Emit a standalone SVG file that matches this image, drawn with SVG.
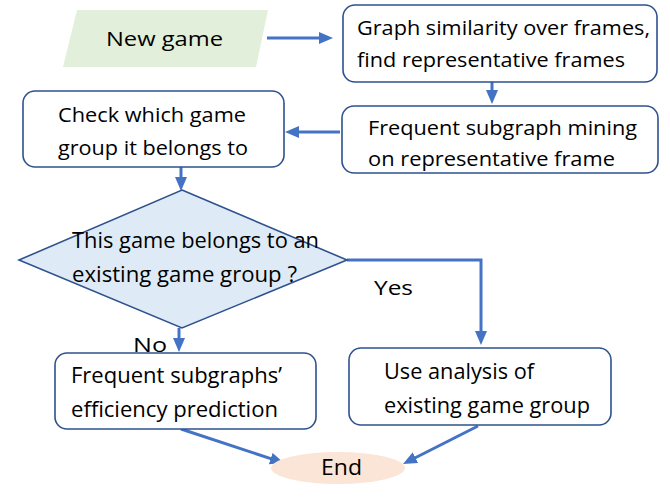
<svg xmlns="http://www.w3.org/2000/svg" width="670" height="498" viewBox="0 0 670 498">
<style>
.box{fill:#ffffff;stroke:#2f528f;stroke-width:1.6}
.t{font-family:"Open Sans","Noto Sans",sans-serif;font-size:20px;fill:#000}
.c{font-family:"Open Sans","Noto Sans",sans-serif;font-size:21px;fill:#000}
.con{fill:none;stroke:#4472c4;stroke-width:3}
</style>
<defs>
<marker id="ah" markerUnits="userSpaceOnUse" markerWidth="14" markerHeight="12" viewBox="0 0 14 12" refX="4" refY="6" orient="auto">
<path d="M0,0 L14,6 L0,12 z" fill="#4472c4"/>
</marker>
</defs>
<g id="connectors">
<line class="con" x1="267" y1="38" x2="323" y2="38" marker-end="url(#ah)"/>
<line class="con" x1="492" y1="82" x2="492" y2="94" marker-end="url(#ah)"/>
<line class="con" x1="340" y1="132" x2="295" y2="132" marker-end="url(#ah)"/>
<line class="con" x1="181" y1="167" x2="181" y2="181" marker-end="url(#ah)"/>
<path class="con" d="M347,260 H481 V335" marker-end="url(#ah)"/>
<line class="con" x1="179" y1="328" x2="179" y2="342" marker-end="url(#ah)"/>
<line class="con" x1="181" y1="429" x2="274.5" y2="459.9" marker-end="url(#ah)"/>
<line class="con" x1="478" y1="426" x2="411.9" y2="459.5" marker-end="url(#ah)"/>
<text class="t" x="374" y="295" font-size="25" textLength="39" lengthAdjust="spacingAndGlyphs">Yes</text>
<text class="t" x="133" y="352" font-size="26" textLength="34" lengthAdjust="spacingAndGlyphs">No</text>
</g>
<g id="new-game">
<polygon points="77,10 268,10 256,67 63,67" fill="#e2efda"/>
<text class="t" x="106" y="46" font-size="25" textLength="117" lengthAdjust="spacingAndGlyphs">New game</text>
</g>
<g id="graph-similarity">
<rect class="box" x="343" y="5" width="314" height="77" rx="12"/>
<text class="t" x="357" y="35" textLength="293" lengthAdjust="spacingAndGlyphs">Graph similarity over frames,</text>
<text class="t" x="357" y="67" textLength="268" lengthAdjust="spacingAndGlyphs">find representative frames</text>
</g>
<g id="subgraph-mining">
<rect class="box" x="342" y="106" width="316" height="67" rx="12"/>
<text class="t" x="368" y="135" font-size="21" textLength="269" lengthAdjust="spacingAndGlyphs">Frequent subgraph mining</text>
<text class="t" x="368" y="166" font-size="21" textLength="247" lengthAdjust="spacingAndGlyphs">on representative frame</text>
</g>
<g id="check-group">
<rect class="box" x="23" y="91" width="261" height="76" rx="12"/>
<text class="t" x="58" y="122" font-size="22" textLength="188" lengthAdjust="spacingAndGlyphs">Check which game</text>
<text class="t" x="58" y="155" font-size="22" textLength="190" lengthAdjust="spacingAndGlyphs">group it belongs to</text>
</g>
<g id="decision">
<polygon points="182,190 347,260 182,328 19,260" fill="#deebf7" stroke="#2f528f" stroke-width="1.6"/>
<text class="c" x="72" y="248" textLength="247" lengthAdjust="spacingAndGlyphs">This game belongs to an</text>
<text class="c" x="72" y="282" textLength="225" lengthAdjust="spacingAndGlyphs">existing game group ?</text>
</g>
<g id="efficiency-prediction">
<rect class="box" x="55" y="353" width="261" height="76" rx="12"/>
<text class="c" x="71" y="383" textLength="211" lengthAdjust="spacingAndGlyphs">Frequent subgraphs’</text>
<text class="c" x="71" y="417" textLength="207" lengthAdjust="spacingAndGlyphs">efficiency prediction</text>
</g>
<g id="use-analysis">
<rect class="box" x="349" y="348" width="262" height="77" rx="12"/>
<text class="c" x="384" y="379" textLength="150" lengthAdjust="spacingAndGlyphs">Use analysis of</text>
<text class="c" x="384" y="413" textLength="206" lengthAdjust="spacingAndGlyphs">existing game group</text>
</g>
<g id="end">
<ellipse cx="338" cy="468" rx="67" ry="16" fill="#fbe5d6"/>
<text class="c" x="321" y="475" font-size="23" textLength="41" lengthAdjust="spacingAndGlyphs">End</text>
</g>
</svg>
